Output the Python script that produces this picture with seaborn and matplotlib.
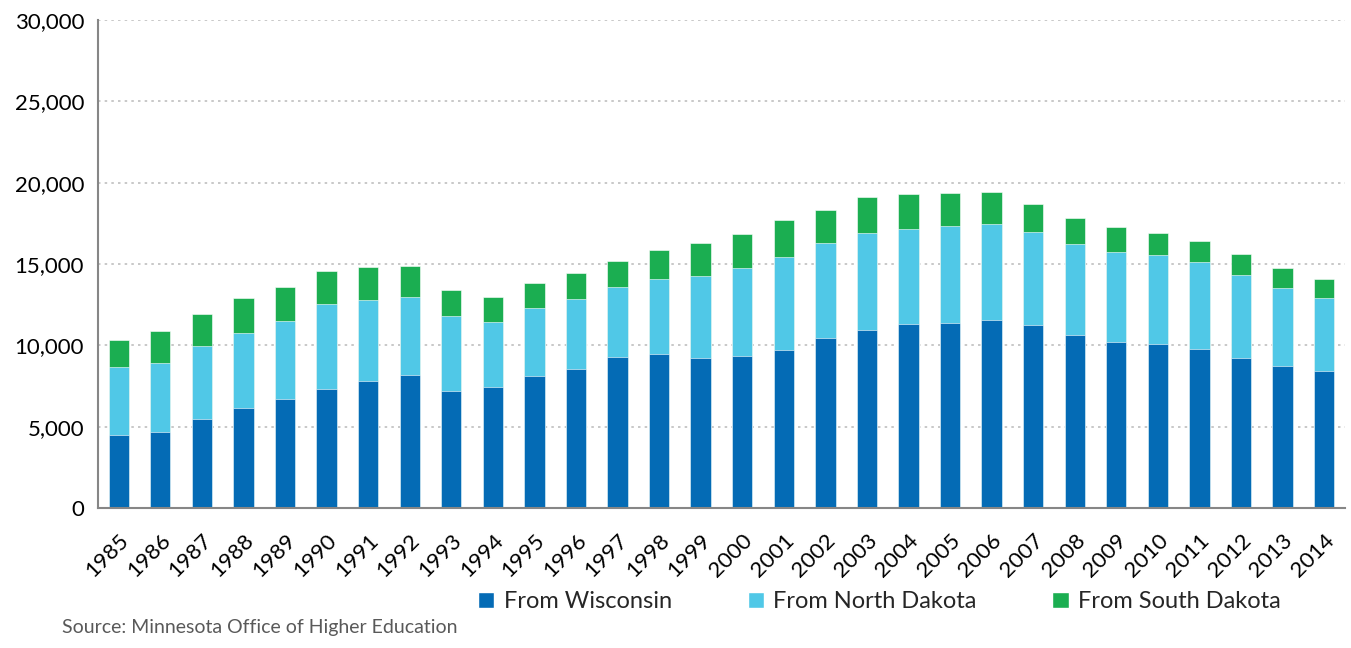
import matplotlib
matplotlib.use('Agg')
import matplotlib.pyplot as plt
import matplotlib.ticker as mticker
from matplotlib.patches import Patch
import numpy as np
import pandas as pd
import seaborn as sns

# Data
years = [str(y) for y in range(1985, 2015)]
wisconsin = [4510, 4690, 5490, 6170, 6720, 7330, 7800, 8190, 7170, 7450,
             8130, 8520, 9310, 9480, 9210, 9360, 9720, 10440, 10950, 11320,
             11360, 11580, 11260, 10660, 10230, 10110, 9790, 9210, 8740, 8420]
north_dakota = [4150, 4250, 4480, 4600, 4760, 5220, 4990, 4770, 4620, 4010,
                4170, 4310, 4260, 4580, 5070, 5380, 5710, 5830, 5950, 5850,
                5950, 5870, 5700, 5590, 5530, 5420, 5310, 5100, 4790, 4480]
south_dakota = [1700, 1930, 1940, 2130, 2110, 2020, 2040, 1940, 1600, 1520,
                1530, 1620, 1630, 1820, 1990, 2100, 2290, 2080, 2210, 2140,
                2050, 1950, 1720, 1570, 1530, 1410, 1290, 1300, 1240, 1180]
series = ['From Wisconsin', 'From North Dakota', 'From South Dakota']
colors = ['#046BB5', '#50C8E7', '#1BAE51']

df = pd.DataFrame({'year': years, 'wi': wisconsin, 'nd': north_dakota, 'sd': south_dakota})
df['wi_nd'] = df['wi'] + df['nd']
df['total'] = df['wi_nd'] + df['sd']

sns.set_style('white')
plt.rcParams['font.family'] = ['Lato', 'DejaVu Sans']

fig = plt.figure(figsize=(13.51, 6.48), dpi=100)
ax = fig.add_axes([0.0725, 0.216, 0.923, 0.753])

# stacked bars by overlaying cumulative totals
for col, c in zip(['total', 'wi_nd', 'wi'], colors[::-1]):
    sns.barplot(data=df, x='year', y=col, color=c, width=0.49, ax=ax,
                edgecolor='white', linewidth=0.4, saturation=1)

ax.set_xlim(-0.5, len(years) - 0.5)
ax.set_ylim(0, 30000)
ax.yaxis.set_major_locator(mticker.MultipleLocator(5000))
ax.yaxis.set_major_formatter(mticker.FuncFormatter(lambda v, p: f'{int(v):,}'))
ax.grid(axis='y', linestyle=(0, (1.5, 2.5)), color='#BFBFBF', linewidth=1.2)
ax.set_axisbelow(True)

for s in ['top', 'right']:
    ax.spines[s].set_visible(False)
for s in ['left', 'bottom']:
    ax.spines[s].set_color('#868686')
    ax.spines[s].set_linewidth(1.5)

ax.tick_params(axis='both', direction='in', color='#868686', length=5, width=1.2)
ax.tick_params(axis='y', labelsize=16, pad=10, labelcolor='black')
ax.tick_params(axis='x', labelsize=16, pad=16, labelcolor='black')
plt.setp(ax.get_xticklabels(), rotation=45, ha='right', rotation_mode='anchor')
ax.set_xlabel('')
ax.set_ylabel('')

handles = [Patch(facecolor=c, label=l) for c, l in zip(colors, series)]
fig.legend(handles=handles, loc='center', bbox_to_anchor=(0.651, 0.071), ncol=3,
           frameon=False, fontsize=17, handlelength=0.7, handleheight=0.7,
           handletextpad=0.4, columnspacing=3.2)

fig.text(0.046, 0.018, 'Source: Minnesota Office of Higher Education',
         fontsize=14, color='#595959', ha='left', va='bottom')

plt.savefig('out.png', dpi=100)
